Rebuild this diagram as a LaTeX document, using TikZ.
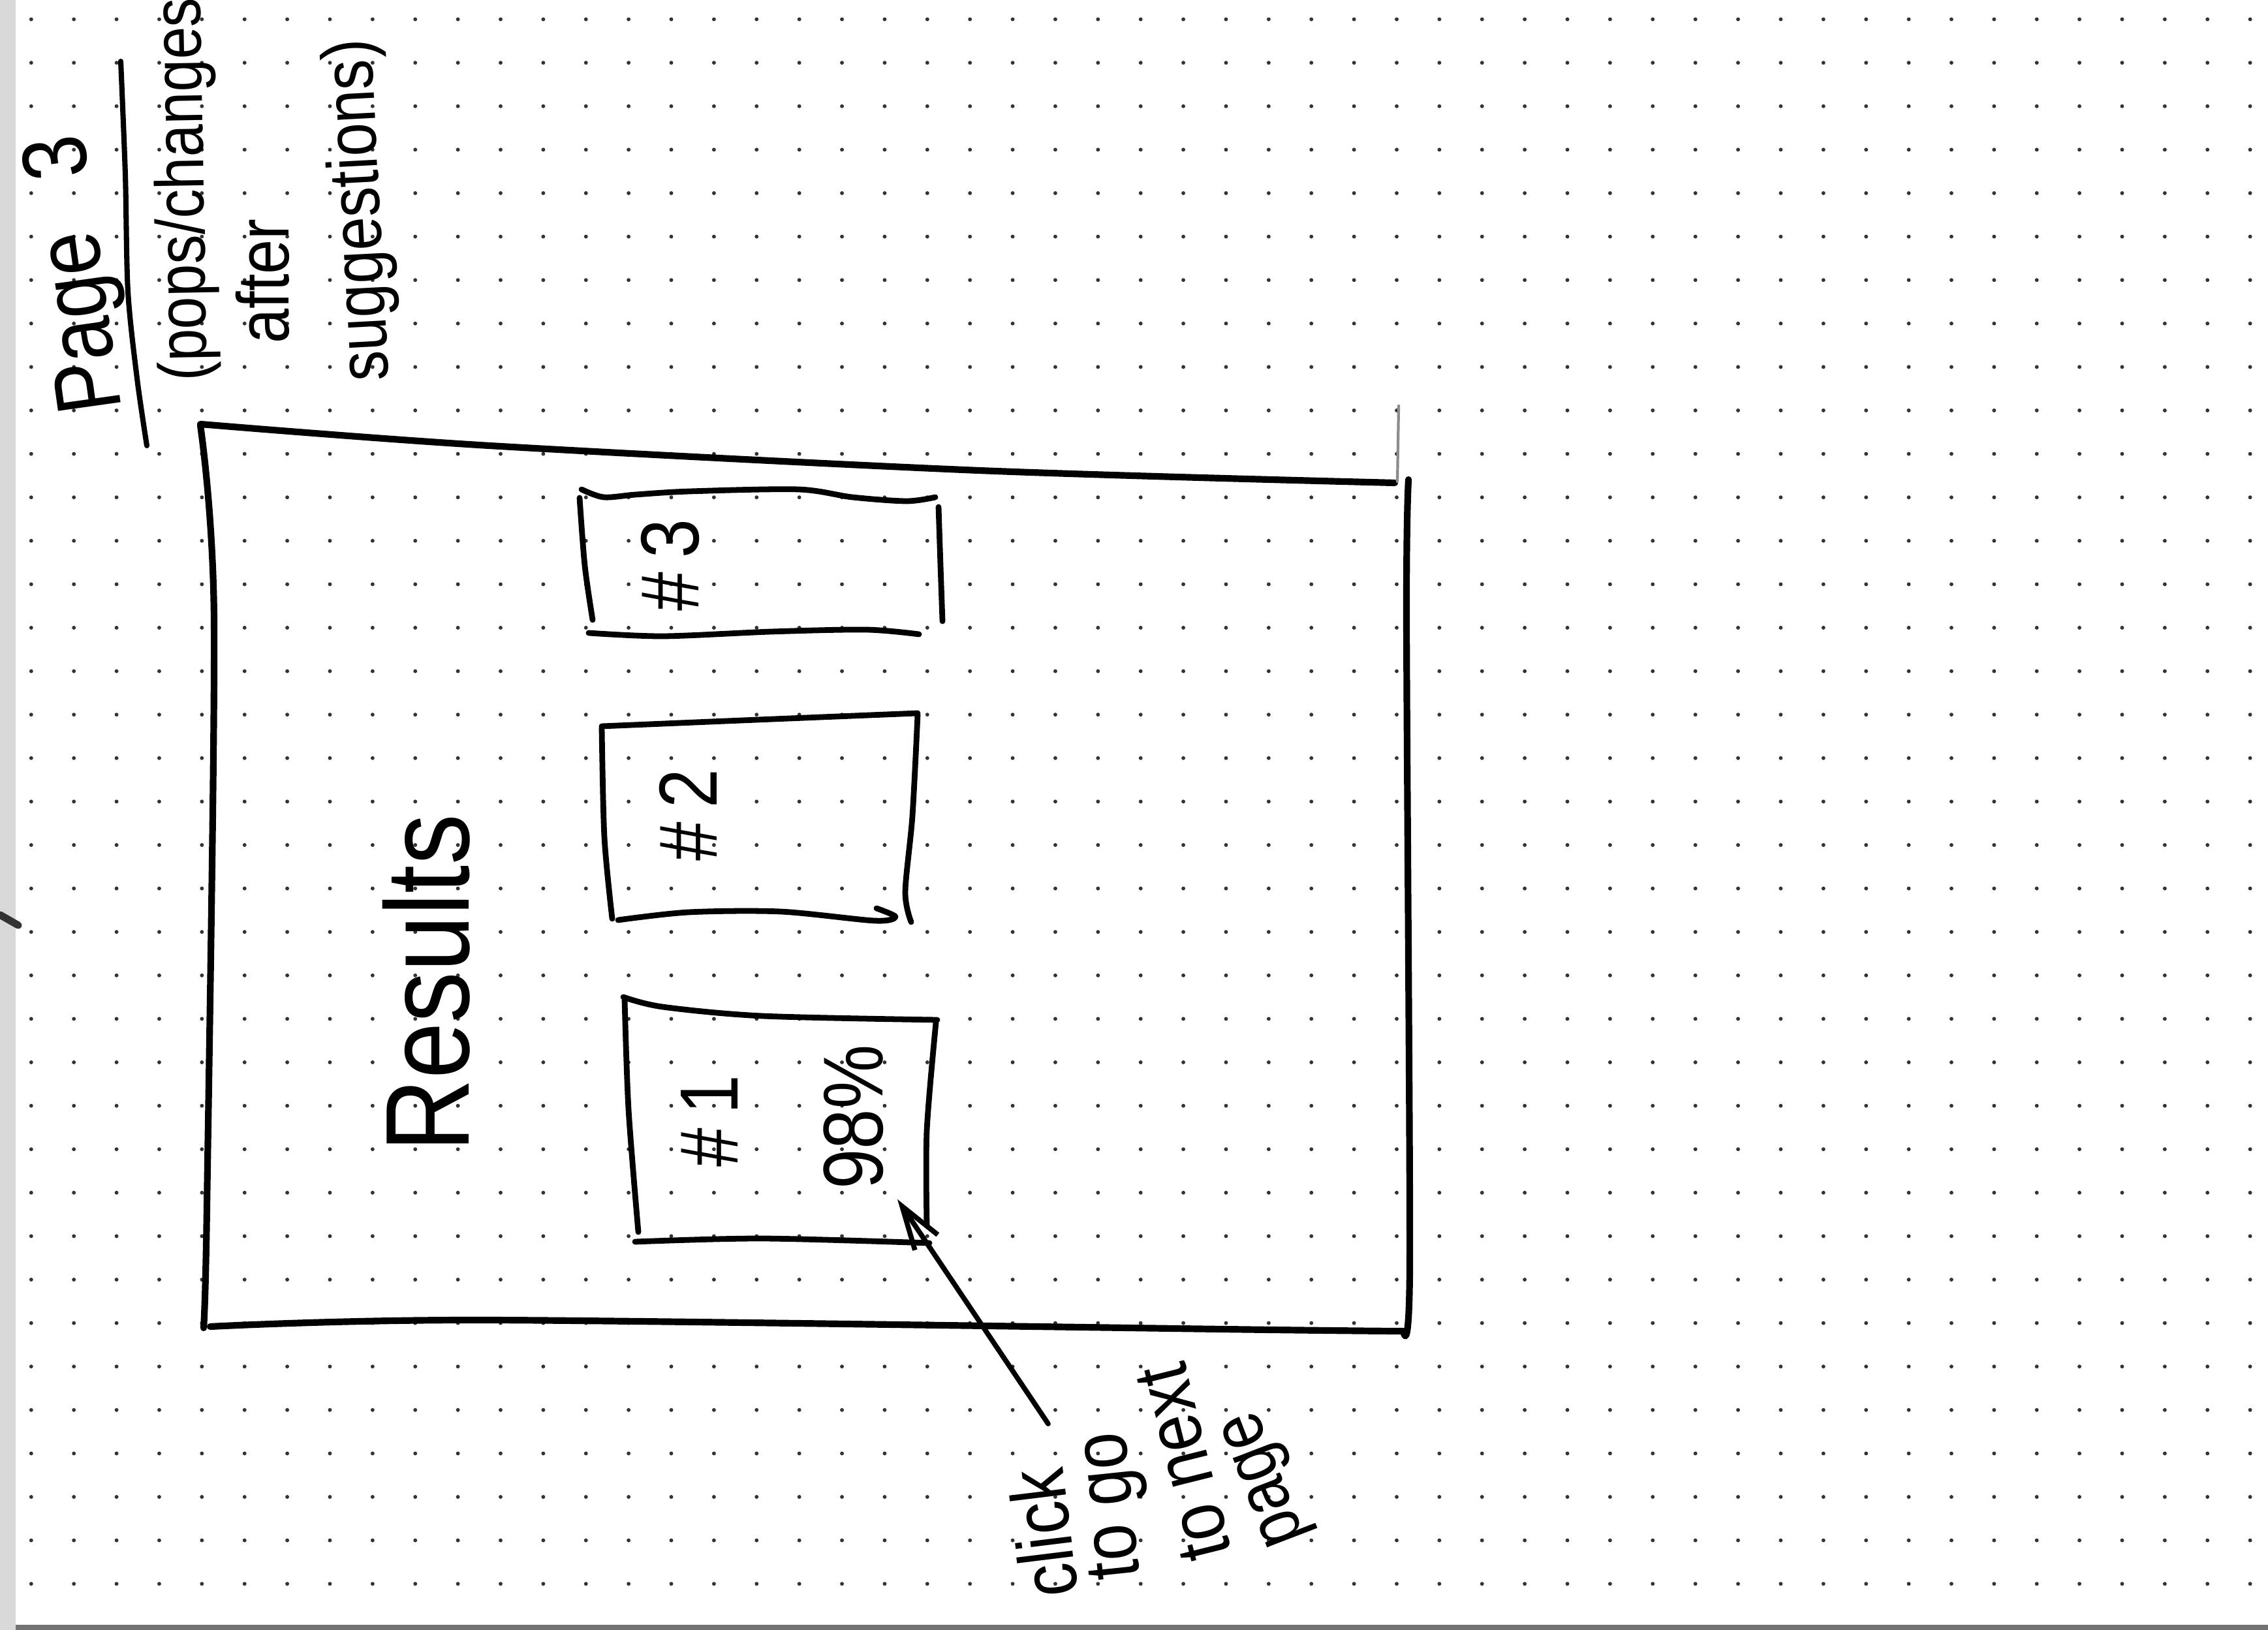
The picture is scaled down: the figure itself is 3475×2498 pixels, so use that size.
\documentclass[tikz,border=0pt]{standalone}
\usepackage{fontspec}
\setmainfont{Liberation Sans}
\newfontfamily\hand[FakeStretch=0.85]{Liberation Sans}
\newcommand\handsize[1]{\hand\fontsize{#1}{#1}\selectfont}
\usetikzlibrary{arrows.meta}
\begin{document}
\begin{tikzpicture}[x=0.005cm,y=-0.005cm,
  pen/.style={line width=1.25pt, line cap=round, line join=round},
  bigpen/.style={line width=1.45pt, line cap=round, line join=round},
  note/.style={inner sep=0pt, anchor=base},
  faint/.style={line width=0.6pt, draw=black!45, line cap=round},
  griddot/.style={fill=black!80}
]
\useasboundingbox (0,0) rectangle (3475,2498);
\fill[white] (0,0) rectangle (3475,2498);
% dot grid of the notebook page
\foreach \i in {0,...,52} {
  \foreach \j in {0,...,36} {
    \fill[griddot] ({47.8+65.38*\i},{29.6+66.6*\j}) circle[radius=0.42pt];
  }
}
% page edges
\fill[black!55] (0,2490) rectangle (3475,2498);
\fill[black!15] (0,0) rectangle (24,2498);
\draw[line width=1.6pt, black!80, line cap=round] (0,1402) -- (28,1418);

% outer frame
\draw[bigpen] plot[smooth] coordinates {(307,650) (750,683) (1500,721) (2137,740)};
\draw[bigpen] plot[smooth] coordinates {(2158,735) (2155,950) (2160,1937) (2150,2040)};
\draw[bigpen] plot[smooth] coordinates {(2150,2040) (1950,2038) (750,2023) (322,2033)};
\draw[bigpen] plot[smooth] coordinates {(307,652) (328,950) (317,1850) (312,2035)};
\draw[faint] (2143,622) -- (2141,738);

% box #3
\draw[pen] plot[smooth] coordinates {(891,750) (925,762) (974,758) (1057,753) (1223,750) (1306,762) (1389,768) (1433,762)};
\draw[pen] plot[smooth] coordinates {(888,763) (896,867) (908,950)};
\draw[pen] plot[smooth] coordinates {(902,970) (1016,975) (1182,968) (1327,965) (1408,972)};
\draw[pen] plot[smooth] coordinates {(1438,777) (1441,867) (1444,952)};

% box #2
\draw[pen] plot[smooth] coordinates {(922,1113) (1161,1103) (1406,1093)};
\draw[pen] plot[smooth] coordinates {(922,1115) (926,1283) (938,1408)};
\draw[pen] plot[smooth] coordinates {(947,1410) (1055,1398) (1196,1397) (1340,1411) (1372,1405) (1343,1392)};
\draw[pen] plot[smooth] coordinates {(1406,1095) (1398,1250) (1387,1367) (1396,1413)};

% box #1
\draw[pen] plot[smooth] coordinates {(955,1528) (1015,1543) (1168,1557) (1436,1563)};
\draw[pen] plot[smooth] coordinates {(957,1532) (963,1700) (978,1888)};
\draw[pen] plot[smooth] coordinates {(973,1903) (1168,1898) (1424,1905)};
\draw[pen] plot[smooth] coordinates {(1434,1567) (1420,1733) (1420,1877)};

% title
\node[note, rotate=98, font=\handsize{20pt}] (title) at (157,415) {Page\hspace{0.59em}3};
\draw[pen, line width=1.15pt] plot[smooth] coordinates {(185,94) (192,268) (196,446) (210,580) (225,683)};
\node[note, rotate=91, font=\handsize{15pt}] (sub1) at (312,290) {(pops/changes};
\node[note, rotate=90, font=\handsize{16pt}] (sub2) at (442,431) {after};
\node[note, rotate=93, font=\handsize{15.5pt}] (sub3) at (582,321) {suggestions)};

% contents
\node[note, rotate=90, font=\handsize{26pt}] (results) at (718,1507) {Results};
\node[note, rotate=90, font=\handsize{18pt}] (r3) at (1070,866) {\#\kern3pt3};
\node[note, rotate=90, font=\handsize{18pt}] (r2) at (1098,1249) {\#\kern3pt2};
\node[note, rotate=90, font=\handsize{18pt}] (r1) at (1130,1718) {\#\kern3pt1};
\node[note, rotate=90, font=\handsize{18.5pt}] (pct) at (1352,1712) {98\%};

% annotation
\node[note, rotate=97, font=\handsize{17pt}] (n1) at (1640,2345) {click};
\node[note, rotate=96, font=\handsize{17pt}] (n2) at (1735,2304) {to go};
\node[note, rotate=104, font=\handsize{17pt}] (n3) at (1851,2232) {to next};
\node[note, rotate=111, font=\handsize{16pt}] (n4) at (1961,2257) {page};

\coordinate (tail) at (1606,2182);
\coordinate (tip) at (1375,1838);
\draw[pen, line width=1.1pt, -{Straight Barb[length=9.5pt,width=6pt]}] (tail) -- (tip);
\end{tikzpicture}
\end{document}
